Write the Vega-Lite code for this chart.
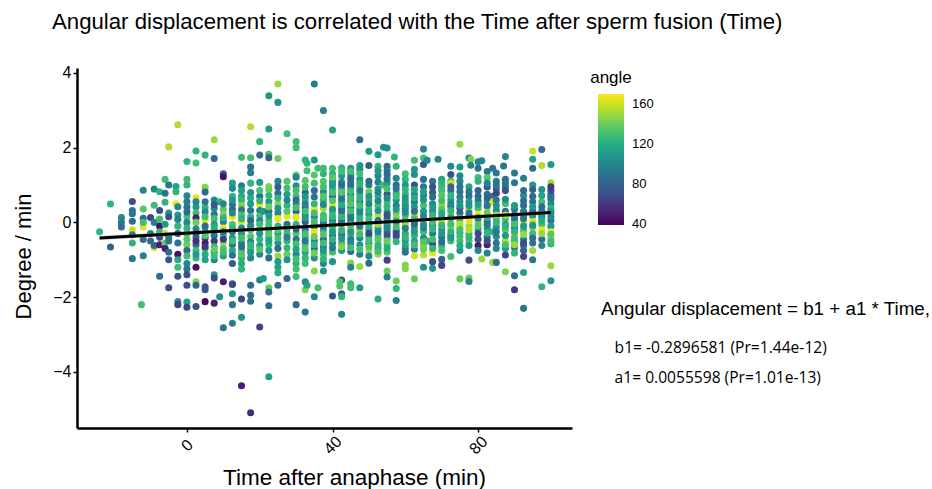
{"$schema":"https://vega.github.io/schema/vega-lite/v6.json","width":495,"height":360,"autosize":"none","padding":{"left":77,"top":68,"right":360,"bottom":61},"background":"white","view":{"stroke":null},"config":{"font":"Liberation Sans"},
"title":{"text":"Angular displacement is correlated with the Time after sperm fusion (Time)","anchor":"start","frame":"group","offset":32,"dx":-25,"fontSize":22.2,"fontWeight":"normal","color":"black","font":"Liberation Sans"},
"datasets":{"pts":[
{"t":-24,"d":-0.25,"a":125},{"t":-21,"d":0.49,"a":125},{"t":-21,"d":-0.66,"a":80},{"t":-18,"d":0.13,"a":100},{"t":-18,"d":0,"a":90},{"t":-18,"d":-0.12,"a":85},{"t":-15,"d":0.56,"a":70},{"t":-15,"d":0.32,"a":90},{"t":-15,"d":0.23,"a":90},{"t":-15,"d":-0.2,"a":160},{"t":-15,"d":-0.33,"a":95},{"t":-15,"d":-0.55,"a":125},{"t":-15,"d":-0.97,"a":90},{"t":-15,"d":0.03,"a":85},{"t":-12,"d":0.86,"a":100},{"t":-12,"d":0.36,"a":135},{"t":-12,"d":0.11,"a":85},{"t":-12,"d":-0.12,"a":165},{"t":-12,"d":-0.46,"a":85},{"t":-12,"d":-0.89,"a":95},{"t":-12.5,"d":-2.2,"a":130},{"t":-12,"d":0.0,"a":130},{"t":-10,"d":0.13,"a":65},{"t":-10,"d":-0.3,"a":100},{"t":-10,"d":-0.5,"a":85},{"t":-9,"d":0.89,"a":100},{"t":-9,"d":0.46,"a":130},{"t":-9,"d":0.0,"a":95},{"t":-9,"d":-0.68,"a":165},{"t":-9,"d":-0.62,"a":85},{"t":-7.5,"d":0.82,"a":125},{"t":-7.5,"d":0.32,"a":70},{"t":-7.5,"d":0.09,"a":130},{"t":-7.5,"d":-0.1,"a":45},{"t":-7.5,"d":-0.25,"a":125},{"t":-7.5,"d":-0.4,"a":70},{"t":-7.5,"d":-0.6,"a":50},{"t":-7.5,"d":-1.44,"a":85},{"t":-6,"d":1.15,"a":130},{"t":-6,"d":0.78,"a":90},{"t":-6,"d":0.54,"a":125},{"t":-6,"d":-0.05,"a":110},{"t":-6,"d":-0.3,"a":160},{"t":-6,"d":-0.55,"a":140},{"t":-6,"d":-0.7,"a":50},{"t":-5,"d":1,"a":90},{"t":-5,"d":0.25,"a":110},{"t":-5,"d":0.15,"a":70},{"t":-5,"d":-0.4,"a":100},{"t":-5,"d":-0.5,"a":90},{"t":-5,"d":-0.8,"a":85},{"t":-5,"d":-1,"a":75},{"t":-5,"d":-1.75,"a":70},{"t":-5,"d":2.02,"a":155},{"t":-3,"d":0.96,"a":115},{"t":-3,"d":0.82,"a":125},{"t":-3,"d":0.5,"a":165},{"t":-2.5,"d":0.42,"a":100},{"t":-2.5,"d":0.2,"a":110},{"t":-2.5,"d":0.08,"a":95},{"t":-2.5,"d":-0.1,"a":125},{"t":-2.5,"d":-0.3,"a":75},{"t":-2.5,"d":-0.55,"a":90},{"t":-2.5,"d":-0.85,"a":45},{"t":-2.5,"d":-1.0,"a":120},{"t":-2.5,"d":-1.2,"a":130},{"t":-2.5,"d":-1.44,"a":70},{"t":-2.5,"d":2.61,"a":155},{"t":-2.5,"d":-2.12,"a":105},{"t":-2.5,"d":-2.2,"a":65},{"t":0,"d":1.63,"a":125},{"t":0,"d":1.15,"a":130},{"t":0,"d":1,"a":125},{"t":0,"d":0.71,"a":100},{"t":0,"d":0.41,"a":90},{"t":0,"d":0.16,"a":130},{"t":0,"d":0,"a":100},{"t":0,"d":-0.15,"a":125},{"t":0,"d":-0.3,"a":130},{"t":0,"d":-0.45,"a":135},{"t":0,"d":-0.6,"a":140},{"t":0,"d":-0.75,"a":85},{"t":0,"d":-1.1,"a":100},{"t":0,"d":-1.25,"a":90},{"t":0,"d":-1.4,"a":70},{"t":0,"d":-1.68,"a":70},{"t":0,"d":-2.13,"a":115},{"t":0,"d":-2.27,"a":65},{"t":2.5,"d":1.91,"a":125},{"t":2.5,"d":1.59,"a":130},{"t":2.5,"d":0.66,"a":165},{"t":2.5,"d":0.41,"a":110},{"t":2.5,"d":0.25,"a":130},{"t":2.5,"d":0.12,"a":50},{"t":2.5,"d":0,"a":140},{"t":2.5,"d":-0.18,"a":100},{"t":2.5,"d":-0.4,"a":95},{"t":2.5,"d":-0.6,"a":85},{"t":2.5,"d":-0.75,"a":130},{"t":2.5,"d":-0.95,"a":125},{"t":2.5,"d":-1.2,"a":45},{"t":2.5,"d":-1.59,"a":145},{"t":2.5,"d":-1.68,"a":80},{"t":2.5,"d":-2.25,"a":70},{"t":5,"d":1.8,"a":125},{"t":5,"d":0.94,"a":145},{"t":5,"d":0.81,"a":85},{"t":5,"d":0.4,"a":125},{"t":5,"d":0.28,"a":100},{"t":5,"d":0.05,"a":165},{"t":5,"d":-0.1,"a":85},{"t":5,"d":-0.25,"a":100},{"t":5,"d":-0.42,"a":70},{"t":5,"d":-0.55,"a":50},{"t":5,"d":-0.7,"a":125},{"t":5,"d":-0.85,"a":120},{"t":5,"d":-1,"a":115},{"t":5,"d":-1.72,"a":75},{"t":5,"d":-1.8,"a":75},{"t":5,"d":-2.12,"a":42},{"t":7.5,"d":2.21,"a":150},{"t":7.5,"d":1.71,"a":85},{"t":7.5,"d":0.6,"a":100},{"t":7.5,"d":0.38,"a":100},{"t":7.5,"d":0.22,"a":90},{"t":7.5,"d":0.1,"a":130},{"t":7.5,"d":-0.05,"a":105},{"t":7.5,"d":-0.2,"a":135},{"t":7.5,"d":-0.35,"a":90},{"t":7.5,"d":-0.5,"a":60},{"t":7.5,"d":-0.65,"a":125},{"t":7.5,"d":-0.8,"a":115},{"t":7.5,"d":-1,"a":100},{"t":7.5,"d":-1.4,"a":110},{"t":7.5,"d":-1.49,"a":70},{"t":7.5,"d":-2.16,"a":50},{"t":9,"d":0.55,"a":125},{"t":9,"d":-1.99,"a":105},{"t":10,"d":1.3,"a":75},{"t":10,"d":1.22,"a":45},{"t":10,"d":0.35,"a":135},{"t":10,"d":0.22,"a":145},{"t":10,"d":0.02,"a":100},{"t":10,"d":-0.15,"a":165},{"t":10,"d":-0.35,"a":130},{"t":10,"d":-0.55,"a":150},{"t":10,"d":-0.7,"a":135},{"t":10,"d":-0.9,"a":115},{"t":10,"d":-1.59,"a":50},{"t":10,"d":-2.82,"a":90},{"t":12.5,"d":1.05,"a":115},{"t":12.5,"d":0.91,"a":100},{"t":12.5,"d":0.7,"a":125},{"t":12.5,"d":0.48,"a":90},{"t":12.5,"d":0.35,"a":85},{"t":12.5,"d":0.15,"a":165},{"t":12.5,"d":-0.05,"a":135},{"t":12.5,"d":-0.25,"a":95},{"t":12.5,"d":-0.42,"a":105},{"t":12.5,"d":-0.6,"a":85},{"t":12.5,"d":-0.75,"a":120},{"t":12.5,"d":-1.1,"a":75},{"t":12.5,"d":-1.64,"a":95},{"t":12.5,"d":-1.66,"a":65},{"t":12.5,"d":-1.91,"a":105},{"t":12.5,"d":-2.2,"a":90},{"t":12.5,"d":-2.7,"a":95},{"t":15,"d":1.74,"a":130},{"t":15,"d":0.98,"a":95},{"t":15,"d":0.7,"a":120},{"t":15,"d":0.6,"a":125},{"t":15,"d":0.45,"a":145},{"t":15,"d":0.33,"a":90},{"t":15,"d":0.2,"a":130},{"t":15,"d":0.02,"a":165},{"t":15,"d":-0.15,"a":100},{"t":15,"d":-0.3,"a":110},{"t":15,"d":-0.55,"a":95},{"t":15,"d":-0.75,"a":130},{"t":15,"d":-0.95,"a":125},{"t":15,"d":-1.1,"a":120},{"t":15,"d":-1.25,"a":125},{"t":15,"d":-2.05,"a":65},{"t":15,"d":-2.54,"a":105},{"t":15,"d":-4.37,"a":50},{"t":17.5,"d":2.56,"a":155},{"t":17.5,"d":1.48,"a":90},{"t":17.5,"d":1.33,"a":95},{"t":17.5,"d":1.73,"a":130},{"t":17.5,"d":0.65,"a":120},{"t":17.5,"d":0.5,"a":110},{"t":17.5,"d":0.32,"a":90},{"t":17.5,"d":0.15,"a":125},{"t":17.5,"d":-0.05,"a":165},{"t":17.5,"d":-0.2,"a":130},{"t":17.5,"d":-0.38,"a":135},{"t":17.5,"d":-0.52,"a":100},{"t":17.5,"d":-0.7,"a":130},{"t":17.5,"d":-0.95,"a":100},{"t":17.5,"d":-1.68,"a":85},{"t":17.5,"d":-1.95,"a":85},{"t":17.5,"d":-2.11,"a":85},{"t":17.5,"d":-5.09,"a":55},{"t":20,"d":2.16,"a":125},{"t":20,"d":1.8,"a":85},{"t":20,"d":1.07,"a":110},{"t":20,"d":0.7,"a":85},{"t":20,"d":0.48,"a":165},{"t":20,"d":0.32,"a":95},{"t":20,"d":0.18,"a":130},{"t":20,"d":0.05,"a":100},{"t":20,"d":-0.18,"a":140},{"t":20,"d":-0.45,"a":125},{"t":20,"d":-0.62,"a":110},{"t":20,"d":-0.85,"a":100},{"t":20,"d":-1.54,"a":100},{"t":20,"d":-2.8,"a":65},{"t":21,"d":0.3,"a":110},{"t":21,"d":-1.5,"a":110},{"t":22.5,"d":3.39,"a":110},{"t":22.5,"d":2.5,"a":110},{"t":22.5,"d":1.82,"a":130},{"t":22.5,"d":1.73,"a":80},{"t":22.5,"d":0.96,"a":145},{"t":22.5,"d":0.88,"a":140},{"t":22.5,"d":0.55,"a":110},{"t":22.5,"d":0.3,"a":85},{"t":22.5,"d":0.05,"a":130},{"t":22.5,"d":-0.2,"a":110},{"t":22.5,"d":-0.4,"a":125},{"t":22.5,"d":-0.6,"a":130},{"t":22.5,"d":-0.95,"a":85},{"t":22.5,"d":-1.75,"a":140},{"t":22.5,"d":-1.86,"a":90},{"t":22.5,"d":-2.23,"a":85},{"t":22.5,"d":-4.13,"a":115},{"t":25,"d":3.7,"a":150},{"t":25,"d":3.21,"a":105},{"t":25,"d":1.71,"a":140},{"t":25,"d":1.1,"a":100},{"t":25,"d":0.95,"a":80},{"t":25,"d":0.78,"a":85},{"t":25,"d":0.5,"a":145},{"t":25,"d":0.25,"a":100},{"t":25,"d":0.1,"a":165},{"t":25,"d":-0.1,"a":125},{"t":25,"d":-0.3,"a":115},{"t":25,"d":-0.55,"a":110},{"t":25,"d":-0.9,"a":150},{"t":25,"d":-1.2,"a":115},{"t":25,"d":-1.35,"a":120},{"t":25,"d":-1.68,"a":85},{"t":27.5,"d":2.37,"a":130},{"t":27.5,"d":1.1,"a":135},{"t":27.5,"d":0.75,"a":115},{"t":27.5,"d":0.45,"a":125},{"t":27.5,"d":0.16,"a":165},{"t":27.5,"d":-0.05,"a":85},{"t":27.5,"d":-0.3,"a":130},{"t":27.5,"d":-0.5,"a":125},{"t":27.5,"d":-0.85,"a":140},{"t":27.5,"d":-1.0,"a":105},{"t":27.5,"d":-1.5,"a":85},{"t":30,"d":2.16,"a":130},{"t":30,"d":2,"a":130},{"t":30,"d":1.27,"a":140},{"t":30,"d":1.21,"a":95},{"t":30,"d":0.98,"a":105},{"t":30,"d":0.7,"a":130},{"t":30,"d":0.5,"a":100},{"t":30,"d":0.3,"a":80},{"t":30,"d":0.14,"a":165},{"t":30,"d":-0.05,"a":125},{"t":30,"d":-0.3,"a":135},{"t":30,"d":-0.45,"a":90},{"t":30,"d":-0.85,"a":100},{"t":30,"d":-1.1,"a":125},{"t":30,"d":-1.25,"a":130},{"t":30,"d":-1.45,"a":130},{"t":30,"d":-2.2,"a":85},{"t":32.5,"d":1.67,"a":125},{"t":32.5,"d":1.12,"a":135},{"t":32.5,"d":0.8,"a":80},{"t":32.5,"d":0.6,"a":130},{"t":32.5,"d":0.4,"a":85},{"t":32.5,"d":0.2,"a":100},{"t":32.5,"d":0.02,"a":75},{"t":32.5,"d":-0.2,"a":85},{"t":32.5,"d":-0.4,"a":125},{"t":32.5,"d":-0.6,"a":130},{"t":32.5,"d":-0.8,"a":115},{"t":32.5,"d":-1.1,"a":130},{"t":32.5,"d":-1.59,"a":100},{"t":32.5,"d":-1.8,"a":145},{"t":32.5,"d":-2.4,"a":90},{"t":33,"d":1.58,"a":125},{"t":33,"d":1.38,"a":130},{"t":33,"d":-1.68,"a":115},{"t":35,"d":3.7,"a":95},{"t":35,"d":1.67,"a":110},{"t":35,"d":1.27,"a":135},{"t":35,"d":0.85,"a":85},{"t":35,"d":0.68,"a":90},{"t":35,"d":0.35,"a":165},{"t":35,"d":0.15,"a":100},{"t":35,"d":-0.1,"a":80},{"t":35,"d":-0.25,"a":165},{"t":35,"d":-0.5,"a":95},{"t":35,"d":-0.7,"a":85},{"t":35,"d":-0.95,"a":105},{"t":35,"d":-1.3,"a":145},{"t":35,"d":-1.99,"a":100},{"t":36,"d":1.45,"a":130},{"t":36,"d":-1.75,"a":130},{"t":37.5,"d":2.99,"a":95},{"t":37.5,"d":1.45,"a":130},{"t":37.5,"d":1.1,"a":135},{"t":37.5,"d":0.82,"a":100},{"t":37.5,"d":0.6,"a":125},{"t":37.5,"d":0.38,"a":150},{"t":37.5,"d":0.2,"a":130},{"t":37.5,"d":0,"a":90},{"t":37.5,"d":-0.2,"a":120},{"t":37.5,"d":-0.45,"a":85},{"t":37.5,"d":-0.65,"a":95},{"t":37.5,"d":-0.85,"a":130},{"t":37.5,"d":-1.1,"a":100},{"t":37.5,"d":-1.3,"a":110},{"t":40,"d":2.47,"a":115},{"t":40,"d":1.45,"a":130},{"t":40,"d":1.3,"a":125},{"t":40,"d":1.1,"a":100},{"t":40,"d":0.9,"a":125},{"t":40,"d":0.7,"a":85},{"t":40,"d":0.45,"a":165},{"t":40,"d":0.25,"a":135},{"t":40,"d":0.05,"a":90},{"t":40,"d":-0.15,"a":130},{"t":40,"d":-0.35,"a":85},{"t":40,"d":-0.55,"a":95},{"t":40,"d":-0.8,"a":130},{"t":40,"d":-1.05,"a":105},{"t":40,"d":-1.97,"a":75},{"t":42.5,"d":1.46,"a":125},{"t":42.5,"d":1.25,"a":110},{"t":42.5,"d":1.08,"a":105},{"t":42.5,"d":0.9,"a":125},{"t":42.5,"d":0.72,"a":100},{"t":42.5,"d":0.55,"a":130},{"t":42.5,"d":0.38,"a":90},{"t":42.5,"d":0.22,"a":135},{"t":42.5,"d":0.06,"a":100},{"t":42.5,"d":-0.12,"a":155},{"t":42.5,"d":-0.32,"a":85},{"t":42.5,"d":-0.55,"a":130},{"t":42.5,"d":-0.75,"a":110},{"t":42.5,"d":-1.54,"a":75},{"t":42.5,"d":-1.91,"a":80},{"t":42.5,"d":-1.99,"a":125},{"t":42.5,"d":-2.46,"a":100},{"t":42,"d":-1.59,"a":135},{"t":42,"d":-1.7,"a":135},{"t":45,"d":1.45,"a":110},{"t":45,"d":1.28,"a":105},{"t":45,"d":1.08,"a":100},{"t":45,"d":0.92,"a":125},{"t":45,"d":0.75,"a":85},{"t":45,"d":0.58,"a":95},{"t":45,"d":0.4,"a":105},{"t":45,"d":0.22,"a":90},{"t":45,"d":0.04,"a":100},{"t":45,"d":-0.16,"a":145},{"t":45,"d":-0.36,"a":130},{"t":45,"d":-0.56,"a":105},{"t":45,"d":-0.78,"a":85},{"t":45,"d":-1.09,"a":145},{"t":45,"d":-1.2,"a":100},{"t":45,"d":-1.64,"a":130},{"t":45,"d":-1.75,"a":130},{"t":47.5,"d":2.21,"a":85},{"t":47.5,"d":1.52,"a":110},{"t":47.5,"d":1.42,"a":105},{"t":47.5,"d":1.15,"a":110},{"t":47.5,"d":0.95,"a":130},{"t":47.5,"d":0.75,"a":130},{"t":47.5,"d":0.55,"a":90},{"t":47.5,"d":0.35,"a":105},{"t":47.5,"d":0.18,"a":140},{"t":47.5,"d":0,"a":110},{"t":47.5,"d":-0.2,"a":150},{"t":47.5,"d":-0.42,"a":100},{"t":47.5,"d":-0.6,"a":110},{"t":47.5,"d":-0.85,"a":95},{"t":47.5,"d":-1.18,"a":150},{"t":47.5,"d":-1.75,"a":110},{"t":50,"d":1.9,"a":110},{"t":50,"d":1.52,"a":75},{"t":50,"d":1.0,"a":95},{"t":50,"d":0.82,"a":140},{"t":50,"d":0.6,"a":125},{"t":50,"d":0.4,"a":150},{"t":50,"d":0.22,"a":110},{"t":50,"d":-0.02,"a":70},{"t":50,"d":-0.2,"a":105},{"t":50,"d":-0.38,"a":120},{"t":50,"d":-0.55,"a":95},{"t":50,"d":-0.75,"a":150},{"t":50,"d":-0.9,"a":100},{"t":50,"d":-1.09,"a":85},{"t":52.5,"d":1.81,"a":110},{"t":52.5,"d":1.5,"a":125},{"t":52.5,"d":1.25,"a":100},{"t":52.5,"d":1.08,"a":95},{"t":52.5,"d":0.9,"a":110},{"t":52.5,"d":0.7,"a":125},{"t":52.5,"d":0.45,"a":130},{"t":52.5,"d":0.2,"a":155},{"t":52.5,"d":0.05,"a":90},{"t":52.5,"d":-0.15,"a":115},{"t":52.5,"d":-0.35,"a":130},{"t":52.5,"d":-0.55,"a":145},{"t":52.5,"d":-0.7,"a":110},{"t":52.5,"d":-0.85,"a":150},{"t":52.5,"d":-2.05,"a":120},{"t":54,"d":2.01,"a":105},{"t":54,"d":1.0,"a":130},{"t":55,"d":1.99,"a":105},{"t":55,"d":1.5,"a":85},{"t":55,"d":1.38,"a":90},{"t":55,"d":1.28,"a":85},{"t":55,"d":1.05,"a":115},{"t":55,"d":0.75,"a":70},{"t":55,"d":0.55,"a":130},{"t":55,"d":0.28,"a":110},{"t":55,"d":0.1,"a":90},{"t":55,"d":-0.08,"a":95},{"t":55,"d":-0.25,"a":90},{"t":55,"d":-0.42,"a":130},{"t":55,"d":-0.6,"a":125},{"t":55,"d":-0.8,"a":135},{"t":55,"d":-1.01,"a":65},{"t":55,"d":-1.3,"a":140},{"t":55,"d":-1.46,"a":95},{"t":57,"d":1.75,"a":125},{"t":57.5,"d":1.5,"a":125},{"t":57.5,"d":1.0,"a":85},{"t":57.5,"d":0.78,"a":125},{"t":57.5,"d":0.6,"a":105},{"t":57.5,"d":0.25,"a":140},{"t":57.5,"d":0.12,"a":145},{"t":57.5,"d":-0.05,"a":150},{"t":57.5,"d":-0.22,"a":70},{"t":57.5,"d":-0.38,"a":75},{"t":57.5,"d":-0.52,"a":125},{"t":57.5,"d":-1.57,"a":140},{"t":57.5,"d":-1.77,"a":125},{"t":57.5,"d":-2.09,"a":95},{"t":60,"d":1.3,"a":130},{"t":60,"d":1.15,"a":125},{"t":60,"d":0.75,"a":125},{"t":60,"d":0.55,"a":120},{"t":60,"d":0.38,"a":100},{"t":60,"d":0.2,"a":125},{"t":60,"d":0.06,"a":130},{"t":60,"d":-0.05,"a":150},{"t":60,"d":-0.3,"a":120},{"t":60,"d":-0.48,"a":105},{"t":60,"d":-0.7,"a":100},{"t":60,"d":-0.8,"a":90},{"t":60,"d":-1.14,"a":145},{"t":60,"d":-1.24,"a":145},{"t":62.5,"d":1.66,"a":130},{"t":62.5,"d":1.42,"a":110},{"t":62.5,"d":1.28,"a":105},{"t":62.5,"d":1.0,"a":70},{"t":62.5,"d":0.75,"a":100},{"t":62.5,"d":0.55,"a":85},{"t":62.5,"d":0.2,"a":160},{"t":62.5,"d":0.02,"a":90},{"t":62.5,"d":-0.15,"a":120},{"t":62.5,"d":-0.35,"a":125},{"t":62.5,"d":-0.5,"a":115},{"t":62.5,"d":-0.72,"a":95},{"t":62.5,"d":-0.9,"a":160},{"t":62.5,"d":-1.51,"a":140},{"t":65,"d":1.96,"a":100},{"t":65,"d":1.72,"a":130},{"t":65,"d":1.55,"a":75},{"t":65,"d":0.95,"a":90},{"t":65,"d":0.72,"a":100},{"t":65,"d":0.45,"a":130},{"t":65,"d":0.08,"a":150},{"t":65,"d":-0.05,"a":110},{"t":65,"d":-0.25,"a":130},{"t":65,"d":-0.42,"a":100},{"t":65,"d":-0.62,"a":145},{"t":65,"d":-0.87,"a":155},{"t":65,"d":-1.2,"a":105},{"t":66,"d":1.66,"a":100},{"t":66,"d":-0.5,"a":125},{"t":67.5,"d":1.1,"a":90},{"t":67.5,"d":0.95,"a":70},{"t":67.5,"d":0.8,"a":75},{"t":67.5,"d":0.5,"a":100},{"t":67.5,"d":0.3,"a":100},{"t":67.5,"d":0.1,"a":115},{"t":67.5,"d":-0.08,"a":100},{"t":67.5,"d":-0.3,"a":90},{"t":67.5,"d":-0.58,"a":70},{"t":67.5,"d":-0.82,"a":165},{"t":67.5,"d":-1.05,"a":70},{"t":67.5,"d":-1.23,"a":110},{"t":69,"d":1.69,"a":100},{"t":70,"d":0.95,"a":125},{"t":70,"d":0.85,"a":130},{"t":70,"d":0.72,"a":135},{"t":70,"d":0.45,"a":150},{"t":70,"d":0.35,"a":135},{"t":70,"d":0.15,"a":110},{"t":70,"d":0.02,"a":155},{"t":70,"d":-0.2,"a":105},{"t":70,"d":-0.4,"a":90},{"t":70,"d":-0.62,"a":125},{"t":70,"d":-0.75,"a":130},{"t":70,"d":-0.99,"a":80},{"t":70,"d":-1.15,"a":65},{"t":72.5,"d":1.5,"a":100},{"t":72.5,"d":1.28,"a":70},{"t":72.5,"d":1.1,"a":125},{"t":72.5,"d":1.05,"a":160},{"t":72.5,"d":0.85,"a":90},{"t":72.5,"d":0.6,"a":110},{"t":72.5,"d":0.42,"a":85},{"t":72.5,"d":0.22,"a":150},{"t":72.5,"d":0.05,"a":165},{"t":72.5,"d":-0.15,"a":150},{"t":72.5,"d":-0.35,"a":85},{"t":72.5,"d":-0.5,"a":130},{"t":72.5,"d":-0.91,"a":130},{"t":75,"d":2.09,"a":150},{"t":75,"d":1.48,"a":110},{"t":75,"d":1.1,"a":95},{"t":75,"d":0.95,"a":90},{"t":75,"d":0.82,"a":90},{"t":75,"d":0.68,"a":95},{"t":75,"d":0.55,"a":105},{"t":75,"d":0.38,"a":70},{"t":75,"d":0.25,"a":80},{"t":75,"d":0.02,"a":150},{"t":75,"d":-0.12,"a":145},{"t":75,"d":-0.28,"a":115},{"t":75,"d":-0.5,"a":130},{"t":75,"d":-0.75,"a":110},{"t":75,"d":-1.51,"a":140},{"t":77.5,"d":1.72,"a":100},{"t":77.5,"d":0.95,"a":115},{"t":77.5,"d":0.7,"a":90},{"t":77.5,"d":0.55,"a":110},{"t":77.5,"d":0.35,"a":150},{"t":77.5,"d":0.18,"a":130},{"t":77.5,"d":-0.1,"a":150},{"t":77.5,"d":-0.3,"a":130},{"t":77.5,"d":-0.5,"a":135},{"t":77.5,"d":-1.01,"a":70},{"t":77.5,"d":-1.49,"a":140},{"t":77.5,"d":-1.58,"a":95},{"t":78,"d":1.69,"a":145},{"t":78,"d":1.53,"a":100},{"t":80,"d":1.62,"a":100},{"t":80,"d":1.45,"a":90},{"t":80,"d":1.2,"a":130},{"t":80,"d":1.1,"a":125},{"t":80,"d":0.7,"a":80},{"t":80,"d":0.58,"a":85},{"t":80,"d":0.38,"a":130},{"t":80,"d":0.22,"a":165},{"t":80,"d":0.02,"a":145},{"t":80,"d":-0.18,"a":120},{"t":80,"d":-0.45,"a":70},{"t":80,"d":-0.62,"a":50},{"t":81,"d":1.65,"a":100},{"t":81,"d":-0.98,"a":150},{"t":82.5,"d":1.36,"a":90},{"t":82.5,"d":1.2,"a":135},{"t":82.5,"d":0.95,"a":75},{"t":82.5,"d":0.75,"a":85},{"t":82.5,"d":0.55,"a":110},{"t":82.5,"d":0.4,"a":150},{"t":82.5,"d":0.25,"a":140},{"t":82.5,"d":0.02,"a":85},{"t":82.5,"d":-0.15,"a":105},{"t":82.5,"d":-0.4,"a":90},{"t":82.5,"d":-0.6,"a":50},{"t":82.5,"d":-0.82,"a":100},{"t":84,"d":1.45,"a":90},{"t":84,"d":0.7,"a":90},{"t":84,"d":0.55,"a":165},{"t":84,"d":-0.25,"a":125},{"t":84,"d":-1.07,"a":150},{"t":85,"d":1.32,"a":90},{"t":85,"d":1.1,"a":95},{"t":85,"d":0.9,"a":85},{"t":85,"d":0.32,"a":100},{"t":85,"d":0.1,"a":130},{"t":85,"d":-0.12,"a":110},{"t":85,"d":-0.38,"a":100},{"t":85,"d":-0.55,"a":90},{"t":85,"d":-1.07,"a":85},{"t":87,"d":1.51,"a":90},{"t":87.5,"d":1.76,"a":100},{"t":87.5,"d":1.15,"a":85},{"t":87.5,"d":0.95,"a":90},{"t":87.5,"d":0.5,"a":130},{"t":87.5,"d":0.3,"a":85},{"t":87.5,"d":0.1,"a":130},{"t":87.5,"d":-0.05,"a":110},{"t":87.5,"d":-0.2,"a":135},{"t":87.5,"d":-0.5,"a":155},{"t":87.5,"d":-0.7,"a":110},{"t":87.5,"d":-0.87,"a":65},{"t":87.5,"d":-1.32,"a":145},{"t":90,"d":1.32,"a":90},{"t":90,"d":1.06,"a":90},{"t":90,"d":0.35,"a":90},{"t":90,"d":0.2,"a":85},{"t":90,"d":0.05,"a":125},{"t":90,"d":-0.15,"a":90},{"t":90,"d":-0.32,"a":160},{"t":90,"d":-0.5,"a":125},{"t":90,"d":-0.68,"a":90},{"t":90,"d":-0.82,"a":125},{"t":90,"d":-1.43,"a":85},{"t":90,"d":-1.8,"a":60},{"t":92.5,"d":1.18,"a":95},{"t":92.5,"d":0.72,"a":105},{"t":92.5,"d":0.58,"a":85},{"t":92.5,"d":0.45,"a":85},{"t":92.5,"d":0.18,"a":130},{"t":92.5,"d":-0.22,"a":130},{"t":92.5,"d":0.0,"a":165},{"t":92.5,"d":-0.45,"a":100},{"t":92.5,"d":-0.62,"a":90},{"t":92.5,"d":-0.75,"a":80},{"t":92.5,"d":-0.91,"a":65},{"t":92.5,"d":-1.34,"a":115},{"t":92.5,"d":-2.3,"a":90},{"t":95,"d":1.91,"a":160},{"t":95,"d":1.69,"a":115},{"t":95,"d":1.45,"a":85},{"t":95,"d":1.0,"a":110},{"t":95,"d":0.88,"a":80},{"t":95,"d":0.3,"a":80},{"t":95,"d":0.18,"a":105},{"t":95,"d":0.02,"a":160},{"t":95,"d":-0.15,"a":150},{"t":95,"d":-0.3,"a":130},{"t":95,"d":-0.55,"a":90},{"t":95,"d":-0.75,"a":150},{"t":95,"d":-1.0,"a":90},{"t":97.5,"d":1.95,"a":85},{"t":97.5,"d":1.52,"a":155},{"t":97.5,"d":0.88,"a":105},{"t":97.5,"d":0.55,"a":130},{"t":97.5,"d":0.3,"a":100},{"t":97.5,"d":0.15,"a":90},{"t":97.5,"d":-0.05,"a":130},{"t":97.5,"d":-0.2,"a":165},{"t":97.5,"d":-0.45,"a":90},{"t":97.5,"d":-0.62,"a":100},{"t":97.5,"d":-1.72,"a":125},{"t":100,"d":1.55,"a":110},{"t":100,"d":1.06,"a":150},{"t":100,"d":0.85,"a":70},{"t":100,"d":0.74,"a":70},{"t":100,"d":0.62,"a":95},{"t":100,"d":0.5,"a":100},{"t":100,"d":0.38,"a":125},{"t":100,"d":0.25,"a":100},{"t":100,"d":0.05,"a":90},{"t":100,"d":-0.1,"a":110},{"t":100,"d":-0.25,"a":165},{"t":100,"d":-0.42,"a":150},{"t":100,"d":-0.58,"a":125},{"t":100,"d":-1.16,"a":150},{"t":100,"d":-1.56,"a":110},
{"t":0,"d":0.55,"a":95},{"t":0,"d":0.28,"a":85},{"t":0,"d":-0.9,"a":130},{"t":2.5,"d":0.55,"a":100},{"t":2.5,"d":-0.3,"a":70},{"t":2.5,"d":-0.5,"a":55},{"t":2.5,"d":-0.85,"a":110},{"t":5,"d":0.55,"a":90},{"t":5,"d":0.15,"a":130},{"t":5,"d":-0.35,"a":135},{"t":5,"d":-0.65,"a":60},{"t":7.5,"d":0.48,"a":75},{"t":7.5,"d":-0.12,"a":120},{"t":7.5,"d":-0.72,"a":140},{"t":7.5,"d":-0.9,"a":130},{"t":10,"d":0.5,"a":100},{"t":10,"d":0.12,"a":125},{"t":10,"d":-0.25,"a":85},{"t":10,"d":-0.45,"a":60},{"t":10,"d":-0.8,"a":130},{"t":12.5,"d":0.6,"a":110},{"t":12.5,"d":0.25,"a":100},{"t":12.5,"d":-0.15,"a":125},{"t":12.5,"d":-0.5,"a":130},{"t":12.5,"d":-0.88,"a":90},{"t":15,"d":0.85,"a":115},{"t":15,"d":0.1,"a":125},{"t":15,"d":-0.42,"a":130},{"t":15,"d":-0.65,"a":85},{"t":15,"d":-0.85,"a":135},{"t":17.5,"d":1.05,"a":125},{"t":17.5,"d":0.8,"a":105},{"t":17.5,"d":0.05,"a":80},{"t":17.5,"d":-0.1,"a":100},{"t":17.5,"d":-0.6,"a":125},{"t":17.5,"d":-0.8,"a":110},{"t":20,"d":0.85,"a":130},{"t":20,"d":0.58,"a":125},{"t":20,"d":-0.05,"a":130},{"t":20,"d":-0.3,"a":110},{"t":20,"d":-0.72,"a":135},{"t":22.5,"d":0.72,"a":125},{"t":22.5,"d":0.42,"a":140},{"t":22.5,"d":0.18,"a":110},{"t":22.5,"d":-0.08,"a":130},{"t":22.5,"d":-0.3,"a":135},{"t":22.5,"d":-0.5,"a":115},{"t":22.5,"d":-0.75,"a":110},{"t":25,"d":0.65,"a":125},{"t":25,"d":0.38,"a":105},{"t":25,"d":-0.2,"a":135},{"t":25,"d":-0.42,"a":130},{"t":25,"d":-0.7,"a":85},{"t":25,"d":-1.05,"a":110},{"t":27.5,"d":0.92,"a":130},{"t":27.5,"d":0.6,"a":100},{"t":27.5,"d":0.3,"a":135},{"t":27.5,"d":-0.18,"a":125},{"t":27.5,"d":-0.4,"a":95},{"t":27.5,"d":-0.68,"a":125},{"t":30,"d":0.85,"a":130},{"t":30,"d":0.6,"a":85},{"t":30,"d":0.4,"a":130},{"t":30,"d":-0.18,"a":80},{"t":30,"d":-0.58,"a":130},{"t":30,"d":-0.72,"a":115},{"t":30,"d":-0.98,"a":130},{"t":32.5,"d":0.95,"a":130},{"t":32.5,"d":0.7,"a":105},{"t":32.5,"d":0.5,"a":95},{"t":32.5,"d":0.3,"a":130},{"t":32.5,"d":0.12,"a":110},{"t":32.5,"d":-0.3,"a":130},{"t":32.5,"d":-0.5,"a":90},{"t":32.5,"d":-0.7,"a":135},{"t":32.5,"d":-0.95,"a":125},{"t":35,"d":1.05,"a":130},{"t":35,"d":0.5,"a":125},{"t":35,"d":0.25,"a":130},{"t":35,"d":0.02,"a":130},{"t":35,"d":-0.38,"a":140},{"t":35,"d":-0.6,"a":125},{"t":35,"d":-0.82,"a":140},{"t":37.5,"d":1.3,"a":125},{"t":37.5,"d":0.95,"a":130},{"t":37.5,"d":0.7,"a":135},{"t":37.5,"d":0.48,"a":100},{"t":37.5,"d":0.1,"a":130},{"t":37.5,"d":-0.1,"a":90},{"t":37.5,"d":-0.32,"a":135},{"t":37.5,"d":-0.55,"a":130},{"t":37.5,"d":-0.75,"a":110},{"t":37.5,"d":-0.98,"a":125},{"t":40,"d":1.2,"a":135},{"t":40,"d":1.0,"a":110},{"t":40,"d":0.8,"a":130},{"t":40,"d":0.58,"a":135},{"t":40,"d":0.35,"a":110},{"t":40,"d":0.15,"a":125},{"t":40,"d":-0.05,"a":115},{"t":40,"d":-0.25,"a":110},{"t":40,"d":-0.45,"a":125},{"t":40,"d":-0.68,"a":90},{"t":42.5,"d":1.36,"a":130},{"t":42.5,"d":1.0,"a":85},{"t":42.5,"d":0.8,"a":135},{"t":42.5,"d":0.62,"a":90},{"t":42.5,"d":0.46,"a":120},{"t":42.5,"d":0.3,"a":85},{"t":42.5,"d":0.14,"a":125},{"t":42.5,"d":-0.03,"a":85},{"t":42.5,"d":-0.22,"a":125},{"t":42.5,"d":-0.43,"a":105},{"t":42.5,"d":-0.65,"a":145},{"t":45,"d":1.36,"a":130},{"t":45,"d":1.18,"a":85},{"t":45,"d":1.0,"a":85},{"t":45,"d":0.84,"a":130},{"t":45,"d":0.66,"a":130},{"t":45,"d":0.5,"a":135},{"t":45,"d":0.3,"a":130},{"t":45,"d":0.13,"a":90},{"t":45,"d":-0.06,"a":130},{"t":45,"d":-0.26,"a":110},{"t":45,"d":-0.46,"a":95},{"t":45,"d":-0.68,"a":130},{"t":47.5,"d":1.3,"a":130},{"t":47.5,"d":1.05,"a":125},{"t":47.5,"d":0.85,"a":95},{"t":47.5,"d":0.65,"a":125},{"t":47.5,"d":0.45,"a":130},{"t":47.5,"d":0.26,"a":100},{"t":47.5,"d":0.1,"a":125},{"t":47.5,"d":-0.1,"a":90},{"t":47.5,"d":-0.32,"a":130},{"t":47.5,"d":-0.72,"a":130},{"t":50,"d":1.1,"a":85},{"t":50,"d":0.7,"a":110},{"t":50,"d":0.5,"a":100},{"t":50,"d":0.32,"a":125},{"t":50,"d":0.1,"a":130},{"t":50,"d":-0.1,"a":125},{"t":50,"d":-0.3,"a":65},{"t":50,"d":-0.47,"a":130},{"t":50,"d":-0.65,"a":135},{"t":52.5,"d":1.38,"a":110},{"t":52.5,"d":0.8,"a":100},{"t":52.5,"d":0.58,"a":100},{"t":52.5,"d":0.32,"a":110},{"t":52.5,"d":-0.05,"a":150},{"t":52.5,"d":-0.25,"a":100},{"t":52.5,"d":-0.45,"a":135},{"t":52.5,"d":-0.62,"a":125},{"t":52.5,"d":-0.78,"a":130},{"t":55,"d":1.16,"a":90},{"t":55,"d":0.9,"a":130},{"t":55,"d":0.65,"a":100},{"t":55,"d":0.42,"a":125},{"t":55,"d":0.2,"a":70},{"t":55,"d":0,"a":115},{"t":55,"d":-0.16,"a":100},{"t":55,"d":-0.33,"a":70},{"t":55,"d":-0.5,"a":140},{"t":55,"d":-0.7,"a":120},{"t":57.5,"d":1.18,"a":100},{"t":57.5,"d":0.9,"a":90},{"t":57.5,"d":0.7,"a":130},{"t":57.5,"d":0.45,"a":95},{"t":57.5,"d":0.35,"a":110},{"t":57.5,"d":0.02,"a":100},{"t":57.5,"d":-0.14,"a":130},{"t":57.5,"d":-0.3,"a":65},{"t":60,"d":1.0,"a":110},{"t":60,"d":0.88,"a":125},{"t":60,"d":0.65,"a":105},{"t":60,"d":0.46,"a":110},{"t":60,"d":0.28,"a":100},{"t":60,"d":-0.16,"a":95},{"t":60,"d":-0.4,"a":125},{"t":60,"d":-0.6,"a":115},{"t":62.5,"d":0.88,"a":115},{"t":62.5,"d":0.65,"a":120},{"t":62.5,"d":0.42,"a":110},{"t":62.5,"d":0.3,"a":85},{"t":62.5,"d":0.1,"a":130},{"t":62.5,"d":-0.05,"a":85},{"t":62.5,"d":-0.25,"a":110},{"t":62.5,"d":-0.6,"a":130},{"t":65,"d":1.15,"a":90},{"t":65,"d":0.82,"a":115},{"t":65,"d":0.6,"a":105},{"t":65,"d":0.3,"a":110},{"t":65,"d":0.18,"a":100},{"t":65,"d":-0.15,"a":100},{"t":65,"d":-0.52,"a":135},{"t":65,"d":-0.72,"a":140},{"t":67.5,"d":0.68,"a":85},{"t":67.5,"d":0.4,"a":110},{"t":67.5,"d":0.2,"a":125},{"t":67.5,"d":0,"a":130},{"t":67.5,"d":-0.18,"a":125},{"t":67.5,"d":-0.45,"a":130},{"t":67.5,"d":-0.7,"a":125},{"t":70,"d":1.15,"a":115},{"t":70,"d":1.05,"a":125},{"t":70,"d":0.58,"a":130},{"t":70,"d":0.25,"a":120},{"t":70,"d":-0.08,"a":125},{"t":70,"d":-0.3,"a":110},{"t":70,"d":-0.52,"a":85},{"t":72.5,"d":0.95,"a":80},{"t":72.5,"d":0.72,"a":125},{"t":72.5,"d":0.5,"a":100},{"t":72.5,"d":0.32,"a":125},{"t":72.5,"d":0.13,"a":115},{"t":72.5,"d":-0.05,"a":130},{"t":72.5,"d":-0.25,"a":125},{"t":72.5,"d":-0.42,"a":110},{"t":75,"d":1.25,"a":100},{"t":75,"d":0.45,"a":110},{"t":75,"d":0.12,"a":125},{"t":75,"d":-0.05,"a":155},{"t":75,"d":-0.2,"a":130},{"t":75,"d":-0.38,"a":130},{"t":75,"d":-0.62,"a":120},{"t":77.5,"d":0.82,"a":90},{"t":77.5,"d":0.45,"a":105},{"t":77.5,"d":0.25,"a":90},{"t":77.5,"d":0.05,"a":165},{"t":77.5,"d":-0.2,"a":155},{"t":77.5,"d":-0.4,"a":125},{"t":77.5,"d":-0.62,"a":110},{"t":80,"d":0.85,"a":80},{"t":80,"d":0.48,"a":115},{"t":80,"d":0.12,"a":90},{"t":80,"d":-0.08,"a":135},{"t":80,"d":-0.3,"a":65},{"t":80,"d":-0.75,"a":100},{"t":82.5,"d":1.05,"a":100},{"t":82.5,"d":0.65,"a":80},{"t":82.5,"d":0.45,"a":90},{"t":82.5,"d":0.12,"a":120},{"t":82.5,"d":-0.05,"a":90},{"t":82.5,"d":-0.28,"a":125},{"t":82.5,"d":-0.5,"a":70},{"t":85,"d":1.0,"a":90},{"t":85,"d":0.78,"a":65},{"t":85,"d":0.6,"a":90},{"t":85,"d":0.45,"a":105},{"t":85,"d":0.2,"a":150},{"t":85,"d":0,"a":125},{"t":85,"d":-0.25,"a":90},{"t":85,"d":-0.7,"a":100},{"t":87.5,"d":1.05,"a":90},{"t":87.5,"d":0.85,"a":70},{"t":87.5,"d":0.62,"a":100},{"t":87.5,"d":0.2,"a":160},{"t":87.5,"d":-0.1,"a":125},{"t":87.5,"d":-0.35,"a":110},{"t":87.5,"d":-0.6,"a":130},{"t":90,"d":0.45,"a":110},{"t":90,"d":0.12,"a":90},{"t":90,"d":-0.05,"a":130},{"t":90,"d":-0.25,"a":125},{"t":90,"d":-0.42,"a":130},{"t":90,"d":-0.6,"a":150},{"t":92.5,"d":0.85,"a":85},{"t":92.5,"d":0.3,"a":95},{"t":92.5,"d":0.1,"a":90},{"t":92.5,"d":-0.1,"a":110},{"t":92.5,"d":-0.32,"a":150},{"t":92.5,"d":-0.55,"a":70},{"t":95,"d":0.7,"a":85},{"t":95,"d":0.55,"a":90},{"t":95,"d":0.42,"a":110},{"t":95,"d":-0.08,"a":110},{"t":95,"d":-0.42,"a":85},{"t":97.5,"d":0.72,"a":115},{"t":97.5,"d":0.42,"a":85},{"t":97.5,"d":0.22,"a":110},{"t":97.5,"d":0.05,"a":120},{"t":97.5,"d":-0.3,"a":150},{"t":100,"d":0.95,"a":60},{"t":100,"d":0.68,"a":90},{"t":100,"d":0.3,"a":110},{"t":100,"d":0.15,"a":100},{"t":100,"d":-0.32,"a":135},{"t":100,"d":-0.5,"a":130}
],"fit":[{"t":-24,"y":-0.42,"lo":-0.48,"hi":-0.36},{"t":38,"y":-0.08,"lo":-0.11,"hi":-0.05},{"t":100,"y":0.266,"lo":0.21,"hi":0.32}],
"notes":[{"t":113.8,"d":-2.33,"s":"Angular displacement = b1 + a1 * Time,","size":"big"},{"t":117.5,"d":-3.37,"s":"b1= -0.2896581 (Pr=1.44e-12)","size":"small"},{"t":117.5,"d":-4.15,"s":"a1= 0.0055598 (Pr=1.01e-13)","size":"small"}],
"leg":[{"t":110.8,"d":3.85,"s":"angle"}]},
"layer":[
{"data":{"name":"pts"},"mark":{"type":"circle","size":50,"opacity":1},"encoding":{
"x":{"field":"t","type":"quantitative","scale":{"domain":[-30.2,105.8],"nice":false,"zero":false},"axis":{"values":[0,40,80],"grid":false,"title":"Time after anaphase (min)","titleFontSize":22.5,"titleFontWeight":"normal","titleColor":"black","titleX":277,"titleY":49,"titleBaseline":"middle","labelFontSize":16,"labelColor":"black","labelAngle":-45,"labelAlign":"center","labelBaseline":"middle","labelPadding":13,"domainColor":"black","domainWidth":2.5,"tickColor":"black","tickWidth":1.5,"tickSize":4}},
"y":{"field":"d","type":"quantitative","scale":{"domain":[-5.5,4.13],"nice":false,"zero":false},"axis":{"values":[-4,-2,0,2,4],"grid":false,"title":"Degree / min","titleFontSize":22,"titleFontWeight":"normal","titleColor":"black","titlePadding":17,"titleY":188,"labelFontSize":16,"labelColor":"black","domainColor":"black","domainWidth":2.5,"tickColor":"black","tickWidth":1.5,"tickSize":4}},
"color":{"field":"a","type":"quantitative","scale":{"scheme":"viridis","domain":[39,170]},"legend":{"title":null,"orient":"none","legendX":521,"legendY":26,"gradientLength":131,"gradientThickness":26,"values":[40,80,120,160],"labelFontSize":13,"labelColor":"black","labelOffset":8,"gradientStrokeWidth":0}}}},
{"data":{"name":"fit"},"mark":{"type":"area","color":"#999999","opacity":0.35},"encoding":{"x":{"field":"t","type":"quantitative"},"y":{"field":"lo","type":"quantitative"},"y2":{"field":"hi"}}},
{"data":{"name":"fit"},"mark":{"type":"line","color":"black","strokeWidth":3},"encoding":{"x":{"field":"t","type":"quantitative"},"y":{"field":"y","type":"quantitative"}}},
{"data":{"name":"notes"},"transform":[{"filter":"datum.size=='big'"}],"mark":{"type":"text","align":"left","baseline":"middle","fontSize":18.8,"color":"black","font":"Liberation Sans"},"encoding":{"x":{"field":"t","type":"quantitative"},"y":{"field":"d","type":"quantitative"},"text":{"field":"s"}}},
{"data":{"name":"notes"},"transform":[{"filter":"datum.size=='small'"}],"mark":{"type":"text","align":"left","baseline":"middle","fontSize":15.6,"color":"black","font":"Open Sans"},"encoding":{"x":{"field":"t","type":"quantitative"},"y":{"field":"d","type":"quantitative"},"text":{"field":"s"}}},
{"data":{"name":"leg"},"mark":{"type":"text","align":"left","baseline":"middle","fontSize":17,"color":"black","font":"Liberation Sans"},"encoding":{"x":{"field":"t","type":"quantitative"},"y":{"field":"d","type":"quantitative"},"text":{"field":"s"}}}
]}
